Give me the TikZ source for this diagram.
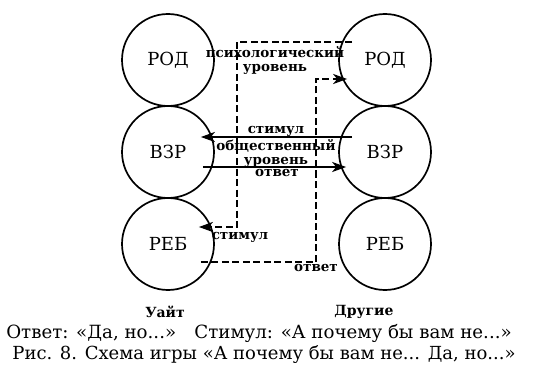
\documentclass[tikz,border=0pt]{standalone}
\usepackage{fontspec}
\setmainfont{DejaVu Serif}
\usetikzlibrary{arrows.meta}

\tikzset{
  egostate/.style={circle,draw,line width=1.7pt,minimum size=92pt,inner sep=0pt,font=\fontsize{18}{18}\selectfont},
  lvl/.style={font=\fontsize{13.5}{14}\selectfont\bfseries,inner sep=0pt,align=center},
  social/.style={->,line width=2.2pt},
  ulterior/.style={->,line width=2.2pt,dash pattern=on 7pt off 3.5pt}
}

\begin{document}
\begin{tikzpicture}[line cap=butt,line join=miter,>={Stealth[length=14pt,width=10pt,inset=4pt]},x=1pt,y=-1pt]
\useasboundingbox (0,0) rectangle (540,374);
\foreach \n/\t/\y in {rod/РОД/60,vzr/ВЗР/152,reb/РЕБ/244}
{
\node[egostate] (l\n) at (168,\y) {\t};
\node[egostate] (r\n) at (385,\y) {\t};
}
% social level
\draw[social] ([xshift=14pt,yshift=15pt]rvzr.west) -- ([xshift=-14pt,yshift=15pt]lvzr.east);
\draw[social] ([xshift=-12pt,yshift=-15pt]lvzr.east) -- ([xshift=8pt,yshift=-15pt]rvzr.west);
% psychological level
\draw[ulterior] ([xshift=14pt,yshift=18pt]rrod.west) -- ++(-115,0) |- ([xshift=-16pt,yshift=17pt]lreb.east);
\draw[ulterior] ([xshift=-14pt,yshift=-18pt]lreb.east) -- ++(115,0) |- ([xshift=9pt,yshift=-19pt]rrod.west);
\node[lvl] (psy) at (275,60) {психологический\\уровень};
\node[lvl] (stim1) at (276,131) {стимул};
\node[lvl] (soc) at (276,153) {общественный\\уровень};
\node[lvl] (resp1) at (277,173) {ответ};
\node[lvl] (stim2) at (240,237) {стимул};
\node[lvl] (resp2) at (316,268) {ответ};
% captions
\node[font=\fontsize{14}{14}\selectfont\bfseries] (white) at (165,312) {Уайт};
\node[font=\fontsize{14}{14}\selectfont\bfseries] (others) at (364,312) {Другие};
\node[font=\fontsize{18.2}{18.2}\selectfont] (legend) at (259,333) {Ответ: «Да, но...»\quad Стимул: «А почему бы вам не...»};
\node[font=\fontsize{18}{18}\selectfont] (title) at (264,355) {Рис. 8. Схема игры «А почему бы вам не... Да, но...»};
\end{tikzpicture}
\end{document}
